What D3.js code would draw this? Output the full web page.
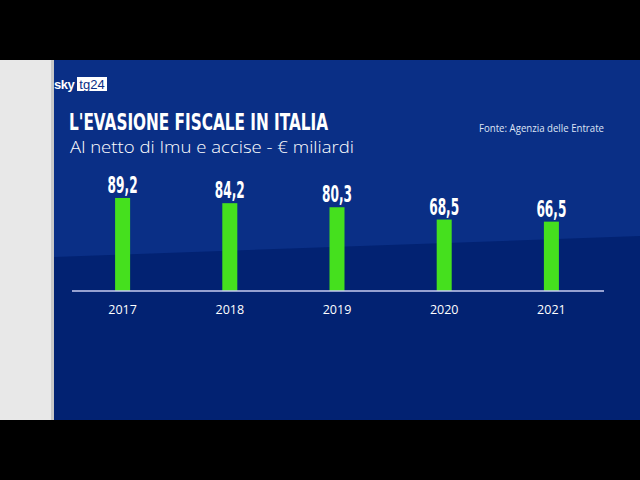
<!DOCTYPE html>
<html><head><meta charset="utf-8">
<script src="https://cdn.jsdelivr.net/npm/d3@7"></script>
<style>html,body{margin:0;padding:0;background:#000;}svg{display:block;}</style>
</head><body>
<script>
const years = ["2017","2018","2019","2020","2021"];
const values = [89.2, 84.2, 80.3, 68.5, 66.5];
const valueLabels = ["89,2","84,2","80,3","68,5","66,5"];
const title = "L'EVASIONE FISCALE IN ITALIA";
const subtitle = "Al netto di Imu e accise - € miliardi";
const source = "Fonte: Agenzia delle Entrate";

const W = 640, H = 480;
const svg = d3.select("body").append("svg").attr("width", W).attr("height", H);

// frame
svg.append("rect").attr("x",0).attr("y",0).attr("width",W).attr("height",H).attr("fill","#000");
svg.append("rect").attr("x",0).attr("y",60).attr("width",54).attr("height",360).attr("fill","#e8e8e8");
svg.append("rect").attr("x",51).attr("y",60).attr("width",3).attr("height",360).attr("fill","#c8c8c8");
svg.append("rect").attr("x",54).attr("y",60).attr("width",586).attr("height",360).attr("fill","#022272");
// lighter diagonal band
svg.append("path").attr("d","M54,60 L640,60 L640,236 L54,257 Z").attr("fill","#0a2f86");

// logo
svg.append("text").attr("x",54).attr("y",89).attr("fill","#fff")
  .attr("font-family","Liberation Sans, Arial, sans-serif").attr("font-weight","bold").attr("font-size",13)
  .attr("letter-spacing",-0.5).text("sky");
svg.append("rect").attr("x",77).attr("y",77).attr("width",30).attr("height",14).attr("fill","#fff");
svg.append("text").attr("x",92).attr("y",89).attr("text-anchor","middle").attr("fill","#0a2f86")
  .attr("font-family","Liberation Sans, Arial, sans-serif").attr("font-size",13).text("tg24");

// titles
svg.append("text").attr("x",69).attr("y",130).attr("fill","#fff")
  .attr("font-family","'Liberation Sans Narrow','DejaVu Sans Condensed',sans-serif").attr("font-weight","bold")
  .attr("font-size",23).attr("textLength",259).attr("lengthAdjust","spacingAndGlyphs").text(title);
svg.append("text").attr("x",70).attr("y",153).attr("fill","#fff")
  .attr("font-family","'Open Sans',sans-serif").attr("font-weight",300)
  .attr("font-size",17).attr("textLength",284).attr("lengthAdjust","spacingAndGlyphs").text(subtitle);
svg.append("text").attr("x",479).attr("y",132).attr("fill","#dfe4f5")
  .attr("font-family","'Open Sans',sans-serif").attr("font-size",10.5)
  .attr("textLength",125).attr("lengthAdjust","spacingAndGlyphs").text(source);

// chart
const baseY = 291;
const x = d3.scaleBand().domain(years).range([69, 605]).paddingInner(0.86).paddingOuter(0.43);
const y = d3.scaleLinear().domain([0, 100]).range([baseY, baseY - 104.3]);

svg.append("g").selectAll("rect").data(values).join("rect")
  .attr("x",(d,i)=>x(years[i])).attr("width",x.bandwidth())
  .attr("y",d=>y(d)).attr("height",d=>baseY - y(d)).attr("fill","#45e01e");

svg.append("g").selectAll("text").data(values).join("text")
  .attr("x",(d,i)=>x(years[i]) + x.bandwidth()/2).attr("y",d=>y(d)-5)
  .attr("text-anchor","middle").attr("fill","#fff")
  .attr("font-family","'Liberation Sans Narrow','DejaVu Sans Condensed',sans-serif").attr("font-weight","bold")
  .attr("font-size",23).attr("textLength",30).attr("lengthAdjust","spacingAndGlyphs")
  .text((d,i)=>valueLabels[i]);

const xAxis = d3.axisBottom(x).tickSize(0).tickPadding(14);
const gx = svg.append("g").attr("transform",`translate(0,${baseY})`).call(xAxis);
gx.select(".domain").attr("stroke","#c9cdf2").attr("stroke-width",1.5).attr("d","M72,0H604");
gx.selectAll("text").attr("fill","#fff").attr("font-family","'Open Sans',sans-serif").attr("font-size",12.5);
</script>
</body></html>
